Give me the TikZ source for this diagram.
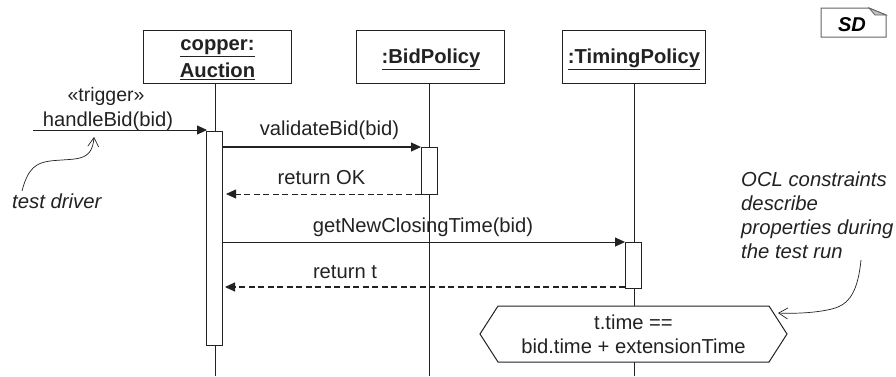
\documentclass[tikz,border=0pt]{standalone}
\usepackage{fontspec}
\setmainfont{Liberation Sans}
\usetikzlibrary{arrows.meta}
\definecolor{ink}{HTML}{222222}
\tikzset{
  x=1pt,y=-1pt,
  every node/.style={font=\fontsize{20.2}{24}\selectfont,text=ink,inner sep=0pt},
  lifebox/.style={draw=ink,line width=1pt,fill=white,minimum width=148pt,minimum height=53pt},
  lifetext/.style={align=center,font=\fontsize{20.2}{27}\selectfont\bfseries},
  life/.style={draw=ink,line width=1pt},
  activ/.style={draw=ink,line width=1pt,fill=white},
  msg/.style={draw=ink,line width=1.1pt,-{Triangle[length=10pt,width=9pt]}},
  thinmsg/.style={draw=ink,line width=.8pt,-{Triangle[length=10pt,width=9pt]}},
  ret/.style={draw=ink,line width=.8pt,dash pattern=on 6pt off 3.5pt,-{Triangle[length=10pt,width=9pt]}},
  retbold/.style={draw=ink,line width=1.1pt,dash pattern=on 6pt off 3.5pt,-{Triangle[length=10pt,width=9pt]}},
  callout/.style={draw=ink,line width=.7pt,-{Straight Barb[length=9pt,width=11pt]}},
  noteitalic/.style={font=\fontsize{20.3}{24}\selectfont\itshape,align=left},
}
\begin{document}
\begin{tikzpicture}
\useasboundingbox (0,0) rectangle (896,376);
\coordinate (e1) at (215,376);
\coordinate (e2) at (429,376);
\coordinate (e3) at (634,376);
\node[lifebox] (a) at (217.5,56.5) {};
\node[lifebox] (b) at (430.5,56.5) {};
\node[lifebox,minimum width=143pt] (c) at (634,56.5) {};
\node[lifetext] (at) at (217.5,59.5) {\underline{copper:}\\\underline{Auction}};
\node[lifetext] (bt) at (431,59) {\underline{:BidPolicy}};
\node[lifetext] (ct) at (634,59) {\underline{:TimingPolicy}};
\draw[life] (215,83) -- (e1);
\draw[life] (429,83) -- (e2);
\draw[life] (634,83) -- (e3);
\node[activ,minimum width=16pt,minimum height=214pt] (ac1) at (214.5,238) {};
\node[activ,minimum width=16pt,minimum height=47pt] (ac2) at (429,170.5) {};
\node[activ,minimum width=16pt,minimum height=46pt] (ac3) at (633.5,265) {};
\coordinate (s0) at (33,130);
\coordinate (t0) at (207,130);
\draw[thinmsg] (s0) -- (t0);
\coordinate (s1) at (222,147);
\coordinate (t1) at (421,147);
\draw[msg] (s1) -- (t1);
\coordinate (s2) at (421,194);
\coordinate (t2) at (226,194);
\draw[ret] (s2) -- (t2);
\coordinate (s3) at (222,242);
\coordinate (t3) at (625,242);
\draw[thinmsg] (s3) -- (t3);
\coordinate (s4) at (625,287);
\coordinate (t4) at (225,287);
\draw[retbold] (s4) -- (t4);
\node[font=\fontsize{19.5}{22}\selectfont] (trig) at (106,96) {«trigger»};
\node (l0) at (108,121) {handleBid(bid)};
\node (l1) at (329.5,130) {validateBid(bid)};
\node (l2) at (321.5,177.5) {return OK};
\node (l3) at (423,227) {getNewClosingTime(bid)};
\node (l4) at (345,272) {return t};
\draw[draw=ink,line width=1pt,fill=white] (498,306) -- (769,306) -- (787,334) -- (769,362) -- (498,362) -- (480,334) -- cycle;
\node[align=center,font=\fontsize{20.2}{24}\selectfont] (oc) at (633.5,334) {t.time ==\\bid.time + extensionTime};
\node[noteitalic,anchor=west] (n1) at (12,201) {test driver};
\node[noteitalic,anchor=north west] (n2) at (741,172) {OCL constraints\\describe\\properties during\\the test run};
\coordinate (c1) at (22,191);
\coordinate (c2) at (94,137);
\draw[callout] (c1) .. controls (28,168) and (36,163) .. (50,161) .. controls (75,158) and (92,163) .. (c2);
\coordinate (c3) at (861,260);
\coordinate (c4) at (778,313);
\draw[callout] (c3) .. controls (858,290) and (850,302) .. (838,307) .. controls (825,312) and (800,314) .. (c4);
\draw[draw=ink!70,line width=1pt,fill=white] (821,8) -- (869,8) -- (886,15) -- (886,37) -- (821,37) -- cycle;
\draw[draw=ink!70,line width=.8pt,fill=gray!50] (869,8) -- (875,15) -- (886,15) -- cycle;
\node[font=\fontsize{20}{22}\selectfont\bfseries\itshape,text=black] (sd) at (852,24.5) {SD};
\end{tikzpicture}
\end{document}
